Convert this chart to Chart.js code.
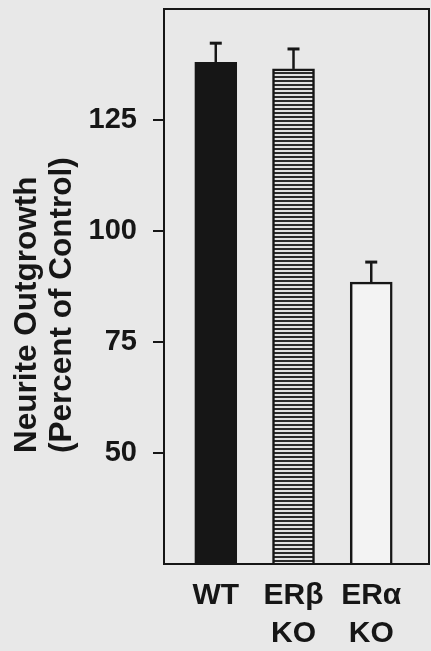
<!DOCTYPE html>
<html>
<head>
<meta charset="utf-8">
<script src="https://cdn.jsdelivr.net/npm/chart.js@4"></script>
<style>
  body { margin: 0; background: #e8e8e8; }
  #wrap { width: 431px; height: 651px; }
</style>
</head>
<body>
<div id="wrap"><canvas id="chart"></canvas></div>
<script>
const groups = ['WT', ['ERβ', 'KO'], ['ERα', 'KO']];
const positions = [1, 2, 3];
const outgrowth = [138, 136.5, 88.5];
const errors = [4.3, 4.5, 4.5];
const yTicks = [50, 75, 100, 125];
const yTitle = ['Neurite Outgrowth', '(Percent of Control)'];

const ink = '#161616';
const font = '"Liberation Sans", Arial, sans-serif';

// horizontal stripes for the ERb bar
function stripes() {
  const c = document.createElement('canvas');
  c.width = 4; c.height = 4;
  const g = c.getContext('2d');
  g.fillStyle = '#e2e2e2';
  g.fillRect(0, 0, 4, 4);
  g.fillStyle = '#2a2a2a';
  g.fillRect(0, 0, 4, 2);
  return g.createPattern(c, 'repeat');
}

const errorBars = {
  id: 'errorBars',
  afterDatasetsDraw(chart) {
    const { ctx, scales: { x, y } } = chart;
    ctx.save();
    ctx.strokeStyle = ink;
    outgrowth.forEach((v, i) => {
      const px = x.getPixelForValue(positions[i]);
      const top = y.getPixelForValue(v + errors[i]);
      ctx.lineWidth = 2.5;
      ctx.beginPath();
      ctx.moveTo(px, y.getPixelForValue(v));
      ctx.lineTo(px, top);
      ctx.stroke();
      ctx.lineWidth = 3;
      ctx.beginPath();
      ctx.moveTo(px - 6, top);
      ctx.lineTo(px + 6, top);
      ctx.stroke();
    });
    ctx.restore();
  }
};

const frame = {
  id: 'frame',
  afterDraw(chart) {
    const { ctx, chartArea: a, scales: { y } } = chart;
    ctx.save();
    ctx.strokeStyle = ink;
    ctx.lineWidth = 2;
    ctx.strokeRect(a.left, a.top, a.right - a.left, a.bottom - a.top);
    // y title, both lines start at the 50 tick
    ctx.fillStyle = ink;
    ctx.font = 'bold 31.5px ' + font;
    ctx.textAlign = 'left';
    ctx.textBaseline = 'middle';
    const startY = y.getPixelForValue(50);
    yTitle.forEach((line, i) => {
      ctx.save();
      ctx.translate(27 + i * 35, startY);
      ctx.rotate(-Math.PI / 2);
      ctx.fillText(line, 0, 0);
      ctx.restore();
    });
    ctx.restore();
  }
};

new Chart(document.getElementById('chart'), {
  type: 'bar',
  data: {
    datasets: [{
      data: positions.map((p, i) => ({ x: p, y: outgrowth[i] })),
      backgroundColor: [ink, stripes(), '#f3f3f3'],
      borderColor: ink,
      borderWidth: 2.5,
      barThickness: 42
    }]
  },
  options: {
    responsive: true,
    maintainAspectRatio: false,
    animation: false,
    layout: { padding: { top: 9, right: 2, left: 0, bottom: 0 } },
    plugins: { legend: { display: false }, tooltip: { enabled: false } },
    scales: {
      x: {
        type: 'linear',
        offset: false,
        min: 0.334,
        max: 3.743,
        afterBuildTicks: s => { s.ticks = positions.map(v => ({ value: v })); },
        afterFit: s => { s.height = 87; s.paddingLeft = 0; s.paddingRight = 0; },
        grid: { display: false, drawTicks: false },
        border: { display: true, color: ink, width: 2 },
        ticks: {
          callback: v => groups[positions.indexOf(v)],
          color: ink,
          padding: 13,
          maxRotation: 0,
          autoSkip: false,
          font: { family: font, size: 30, weight: 'bold', lineHeight: 1.27 }
        }
      },
      y: {
        min: 25,
        max: 150,
        afterBuildTicks: s => { s.ticks = yTicks.map(v => ({ value: v })); },
        afterFit: s => { s.width = 164; s.paddingTop = 0; s.paddingBottom = 0; },
        grid: { drawOnChartArea: false, tickLength: 11, color: ink, lineWidth: 2 },
        border: { display: true, color: ink, width: 2 },
        ticks: {
          color: ink,
          padding: 16,
          font: { family: font, size: 29, weight: 'bold' }
        }
      }
    }
  },
  plugins: [errorBars, frame]
});
</script>
</body>
</html>
